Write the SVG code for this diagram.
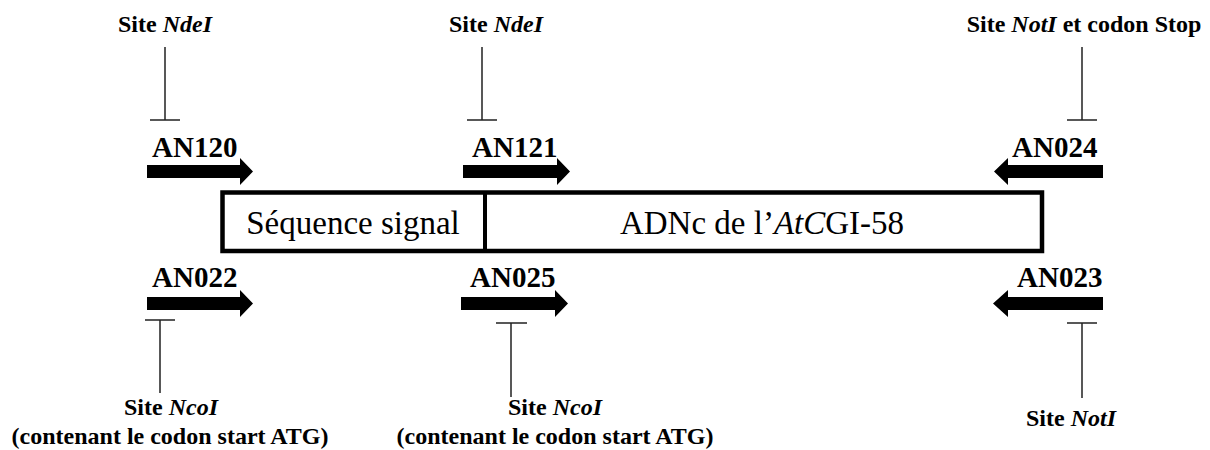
<svg xmlns="http://www.w3.org/2000/svg" width="1210" height="450" viewBox="0 0 1210 450">
<style>
.lbl{font-family:"Liberation Serif","Times New Roman",serif;font-weight:bold;font-size:24px;fill:#000;text-anchor:middle}
.pr{font-family:"Liberation Serif","Times New Roman",serif;font-weight:bold;font-size:29px;fill:#000}
.main{font-family:"Liberation Serif","Times New Roman",serif;font-size:33px;fill:#000}
.tb{stroke:#222;stroke-width:1.5;fill:none}
.arr{fill:#000}
</style>
<rect width="1210" height="450" fill="#fff"/>
<g id="construct">
<rect x="222.5" y="192.5" width="819.5" height="58.5" fill="#fff" stroke="#000" stroke-width="4.5"/>
<line x1="485" y1="192.5" x2="485" y2="251" stroke="#000" stroke-width="4"/>
<text class="main" x="353" y="234" text-anchor="middle">Séquence signal</text>
<text class="main" x="762" y="234" text-anchor="middle">ADNc de l’<tspan font-style="italic">At</tspan><tspan font-style="italic">C</tspan>GI-58</text>
</g>
<g id="AN120">
<text class="pr" x="152" y="157">AN120</text>
<polygon class="arr" points="147,165 240,165 240,158 253,171.5 240,185 240,178 147,178"/>
</g>
<g id="AN121">
<text class="pr" x="472" y="157">AN121</text>
<polygon class="arr" points="463,165 557,165 557,158 570,171.5 557,185 557,178 463,178"/>
</g>
<g id="AN024">
<text class="pr" x="1012" y="157">AN024</text>
<polygon class="arr" points="1103,165 1008,165 1008,158 994,171.5 1008,185 1008,178 1103,178"/>
</g>
<g id="AN022">
<text class="pr" x="152" y="287">AN022</text>
<polygon class="arr" points="147,297 240,297 240,290 253,303.5 240,317 240,310 147,310"/>
</g>
<g id="AN025">
<text class="pr" x="470" y="287">AN025</text>
<polygon class="arr" points="461,297 555,297 555,290 568,303.5 555,317 555,310 461,310"/>
</g>
<g id="AN023">
<text class="pr" x="1017" y="287">AN023</text>
<polygon class="arr" points="1103,297 1008,297 1008,290 993,303.5 1008,317 1008,310 1103,310"/>
</g>
<g id="site-top-1">
<text class="lbl" x="165" y="32">Site <tspan font-style="italic">NdeI</tspan></text>
</g>
<g id="site-top-2">
<text class="lbl" x="496" y="32">Site <tspan font-style="italic">NdeI</tspan></text>
</g>
<g id="site-top-3">
<text class="lbl" x="1084" y="32">Site <tspan font-style="italic">NotI</tspan> et codon Stop</text>
</g>
<g id="site-bot-1">
<text class="lbl" x="171" y="415">Site <tspan font-style="italic">NcoI</tspan></text>
<text class="lbl" x="170" y="444">(contenant le codon start ATG)</text>
</g>
<g id="site-bot-2">
<text class="lbl" x="555" y="415">Site <tspan font-style="italic">NcoI</tspan></text>
<text class="lbl" x="555" y="444">(contenant le codon start ATG)</text>
</g>
<g id="site-bot-3">
<text class="lbl" x="1071" y="426">Site <tspan font-style="italic">NotI</tspan></text>
</g>
<g id="connectors">
<path class="tb" d="M165,47 V120 M150,120 H180"/>
<path class="tb" d="M482,47 V120 M467,120 H497"/>
<path class="tb" d="M1082,47 V120 M1067,120 H1097"/>
<path class="tb" d="M160,320 V393 M145,320 H175"/>
<path class="tb" d="M511,323 V397 M496,323 H527"/>
<path class="tb" d="M1082,323 V398 M1067,323 H1097"/>
</g>
</svg>
